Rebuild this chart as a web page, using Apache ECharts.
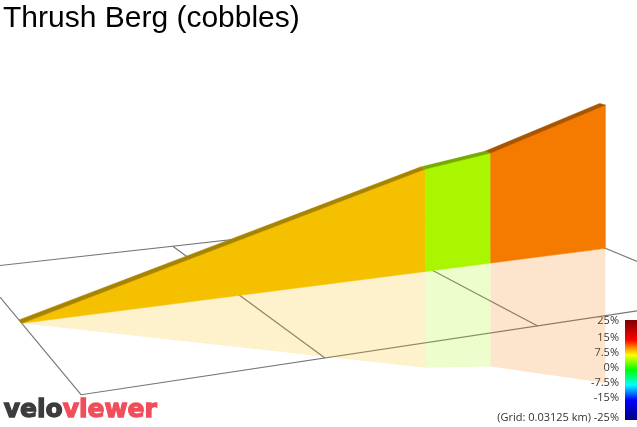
<!DOCTYPE html>
<html>
<head>
<meta charset="utf-8">
<script src="https://cdn.jsdelivr.net/npm/echarts@6/dist/echarts.min.js"></script>
<style>html,body{margin:0;padding:0;background:#fff;}#c{width:637px;height:427px;}</style>
</head>
<body>
<div id="c"></div>
<script>
// ---- data ----
const titleText = 'Thrush Berg (cobbles)';
const GRID_M = 31.25;                       // grid spacing in metres
const distance = [0, 61.2, 72.6, 93.75];    // metres along the climb
const elevation = [0, 5.76, 6.32, 8.54];    // metres gained
const gridDist = [0, 31.25, 62.5, 93.75];   // cross grid lines (m)
const gridLat = [-31.25, 31.25];            // long grid lines (m, lateral)
const legendValues = [25, 15, 7.5, 0, -7.5, -15, -25];
const legendLabels = ['25%', '15%', '7.5%', '0%', '-7.5%', '-15%', '-25%'];

// ---- styles ----
const faceColors = ['#F5C000', '#AAF500', '#F57A00'];
const topColors = ['#A88300', '#76AA00', '#A85400'];

// simple perspective camera: (distance, lateral, height) -> plane coords
function project(d, l, h) {
  const u = d / GRID_M, v = l / GRID_M;
  const W = 1 + 0.064 * u - 0.129 * v;
  const X = 21.7 + 233.3 * u + 48.85 * v;
  const Y = 323.3 - 9.1 * u + 20.5 * v - 20 * h;
  return [X / W, Y / W];
}

const segments = [];
for (let i = 0; i < distance.length - 1; i++) {
  segments.push([distance[i], elevation[i], distance[i + 1], elevation[i + 1]]);
}
const gridLines = [];
gridLat.forEach(l => gridLines.push([gridDist[0], l, gridDist[gridDist.length - 1], l]));
gridDist.forEach(d => gridLines.push([d, gridLat[0], d, gridLat[gridLat.length - 1]]));

const chart = echarts.init(document.getElementById('c'), null, {renderer: 'canvas'});
const TOP_DEPTH = 1.7;
const MIRROR = 0.94;

function seg(api) { return [api.value(0), api.value(1), api.value(2), api.value(3)]; }

const option = {
  animation: false,
  backgroundColor: '#ffffff',
  grid: {left: 0, right: 0, top: 0, bottom: 0},
  xAxis: {type: 'value', min: 0, max: 637, show: false},
  yAxis: {type: 'value', min: 0, max: 427, inverse: true, show: false},
  series: [
    {
      type: 'custom', coordinateSystem: 'cartesian2d', data: gridLines, silent: true,
      renderItem(params, api) {
        const [d0, l0, d1, l1] = seg(api);
        return {type: 'polyline', shape: {points: [api.coord(project(d0, l0, 0)), api.coord(project(d1, l1, 0))]},
          style: {stroke: '#777777', lineWidth: 1.2, fill: null}};
      }
    },
    {
      type: 'custom', coordinateSystem: 'cartesian2d', data: segments, silent: true,
      renderItem(params, api) {
        const [d0, h0, d1, h1] = seg(api);
        const pts = [project(d0, 0, 0), project(d1, 0, 0), project(d1, 0, -h1 * MIRROR), project(d0, 0, -h0 * MIRROR)].map(p => api.coord(p));
        return {type: 'polygon', shape: {points: pts}, style: {fill: faceColors[params.dataIndex], opacity: 0.2}};
      }
    },
    {
      type: 'custom', coordinateSystem: 'cartesian2d', data: segments, silent: true,
      renderItem(params, api) {
        const [d0, h0, d1, h1] = seg(api);
        const c = faceColors[params.dataIndex];
        const pts = [project(d0, 0, 0), project(d1, 0, 0), project(d1, 0, h1), project(d0, 0, h0)].map(p => api.coord(p));
        return {type: 'polygon', shape: {points: pts}, style: {fill: c, stroke: c, lineWidth: 0.6}};
      }
    },
    {
      type: 'custom', coordinateSystem: 'cartesian2d', data: segments, silent: true,
      renderItem(params, api) {
        const [d0, h0, d1, h1] = seg(api);
        const c = topColors[params.dataIndex];
        const pts = [project(d0, 0, h0), project(d1, 0, h1), project(d1, -TOP_DEPTH, h1), project(d0, -TOP_DEPTH, h0)].map(p => api.coord(p));
        return {type: 'polygon', shape: {points: pts}, style: {fill: c, stroke: c, lineWidth: 0.5}};
      }
    }
  ],
  graphic: []
};

// title
option.graphic.push({type: 'text', left: 3, top: 4, style: {text: titleText, fill: '#000', font: '30px "Liberation Sans", Arial, sans-serif'}});
// logo
option.graphic.push({type: 'text', left: 3, top: 397, style: {
  text: '{a|velo}{b|viewer}',
  rich: {
    a: {fill: '#3d3b3b', stroke: '#3d3b3b', lineWidth: 1.3, font: 'bold 25px "DejaVu Sans", sans-serif'},
    b: {fill: '#f04e5c', stroke: '#f04e5c', lineWidth: 1.3, font: 'bold 25px "DejaVu Sans", sans-serif'}
  }
}});
// colour bar
const barTop = 320, barH = 100, vMax = legendValues[0], vMin = legendValues[legendValues.length - 1];
option.graphic.push({type: 'rect', shape: {x: 625, y: barTop, width: 12, height: barH}, style: {
  fill: new echarts.graphic.LinearGradient(0, 0, 0, 1, [
    {offset: 0, color: '#7f0000'}, {offset: 0.2, color: '#ff0000'}, {offset: 0.27, color: '#ff8000'},
    {offset: 0.35, color: '#ffff00'}, {offset: 0.5, color: '#00ff00'}, {offset: 0.65, color: '#00ffff'},
    {offset: 0.8, color: '#0000ff'}, {offset: 1, color: '#00007f'}])
}});
legendValues.forEach((v, i) => {
  let y = barTop + (vMax - v) / (vMax - vMin) * barH - 2;
  y = Math.max(y, barTop + 0.5);
  const txt = i === legendValues.length - 1 ? '(Grid: ' + (GRID_M / 1000) + ' km) ' + legendLabels[i] : legendLabels[i];
  option.graphic.push({type: 'text', x: 619, y: y, style: {text: txt, fill: '#333', font: '11px "Open Sans", sans-serif', textAlign: 'right', textVerticalAlign: 'middle'}});
});

chart.setOption(option);
</script>
</body>
</html>
